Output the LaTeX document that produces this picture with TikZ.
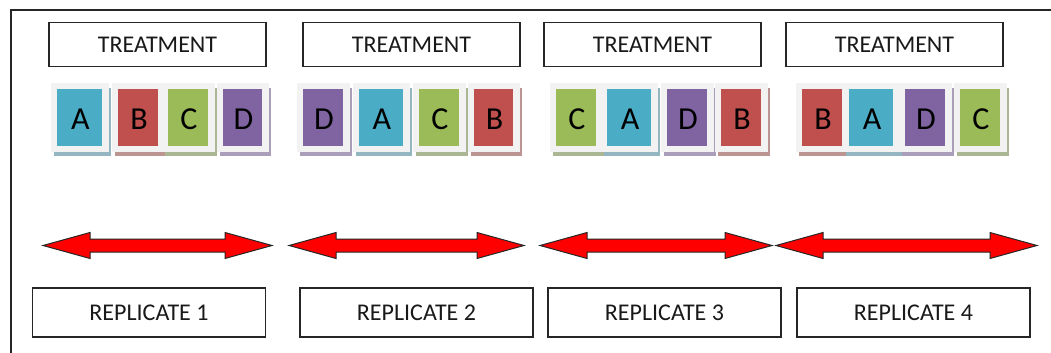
\documentclass[tikz,border=0pt]{standalone}
\usepackage{fontspec}
\setmainfont{Carlito}
\definecolor{cA}{HTML}{4BACC6}
\definecolor{cB}{HTML}{C0504D}
\definecolor{cC}{HTML}{9BBB59}
\definecolor{cD}{HTML}{8064A2}
\definecolor{sA}{HTML}{93B6C0}
\definecolor{sB}{HTML}{BC9492}
\definecolor{sC}{HTML}{AAB694}
\definecolor{sD}{HTML}{AA9EBA}
\definecolor{tilebg}{HTML}{F2F2F2}
\newcommand\mytile[5]{%
  \fill[s#4] ({#2-3.5},88) rectangle ({#3+8.5},156);
  \fill[tilebg] ({#2-6.5},83) rectangle ({#3+6.5},152);
  \fill[c#4] (#2,89) rectangle (#3,146);
  \node[letter] (#1) at ({(#2+#3)/2+1},119) {#5};
}
\newcommand\mydblarrow[3]{%
  \draw[arrowshape] (#1,245.5) -- ({#1+47},232.5) -- ({#1+47},239) -- ({#2-47},239)
    -- ({#2-47},232.5) -- (#2,245.5) -- ({#2-47},258.5) -- ({#2-47},252)
    -- ({#1+47},252) -- ({#1+47},258.5) -- cycle;
  \coordinate (#3) at ({(#1+#2)/2},245.5);
}
\begin{document}
\begin{tikzpicture}[x=1pt,y=-1pt,
  labelbox/.style={draw=black!85, line width=1.3pt, inner sep=0pt,
    minimum width=217pt, minimum height=44pt,
    font=\fontsize{24}{28}\selectfont, text=black!90},
  repbox/.style={labelbox, minimum width=233pt, minimum height=49pt},
  letter/.style={inner sep=0pt, font=\fontsize{32}{36}\selectfont, text=black},
  arrowshape/.style={fill=red, draw=black!85, line width=1pt, line join=miter}]
\useasboundingbox (0,0) rectangle (1051,353);
% frame
\draw[line width=2pt, black!85] (11,353) -- (11,10) -- (1051,10);
% treatment boxes
\node[labelbox] (t1) at (157.5,44.5) {TREATMENT};
\node[labelbox] (t2) at (411.5,44.5) {TREATMENT};
\node[labelbox] (t3) at (652.5,44.5) {TREATMENT};
\node[labelbox] (t4) at (894.5,44.5) {TREATMENT};
% tiles group 1
\mytile{g1a}{57}{102}{A}{A}
\mytile{g1b}{118}{158}{B}{B}
\mytile{g1c}{168}{208}{C}{C}
\mytile{g1d}{223}{262}{D}{D}
% group 2
\mytile{g2d}{303}{343}{D}{D}
\mytile{g2a}{359}{403}{A}{A}
\mytile{g2c}{419}{459}{C}{C}
\mytile{g2b}{474}{513}{B}{B}
% group 3
\mytile{g3c}{556}{596}{C}{C}
\mytile{g3a}{607}{651}{A}{A}
\mytile{g3d}{667}{707}{D}{D}
\mytile{g3b}{721}{761}{B}{B}
% group 4
\mytile{g4b}{802}{842}{B}{B}
\mytile{g4a}{849}{893}{A}{A}
\mytile{g4d}{905}{945}{D}{D}
\mytile{g4c}{960}{1000}{C}{C}
% arrows
\mydblarrow{43}{272}{r1}
\mydblarrow{289}{524}{r2}
\mydblarrow{540}{772}{r3}
\mydblarrow{776}{1037}{r4}
% replicate boxes
\node[repbox] (p1) at (149,312.5) {REPLICATE 1};
\node[repbox] (p2) at (416.5,312.5) {REPLICATE 2};
\node[repbox] (p3) at (664.5,312.5) {REPLICATE 3};
\node[repbox] (p4) at (913.5,312.5) {REPLICATE 4};
\end{tikzpicture}
\end{document}
